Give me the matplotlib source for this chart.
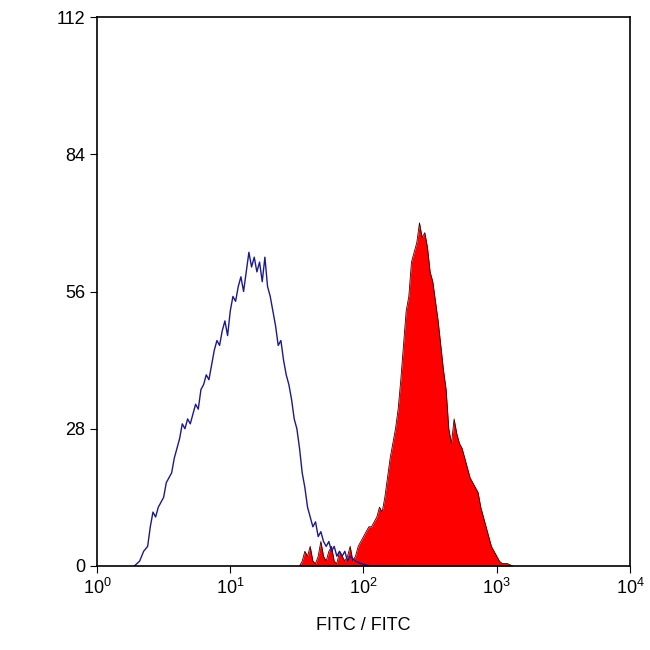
import numpy as np
import matplotlib
matplotlib.use("Agg")
import matplotlib.pyplot as plt

plt.rcParams['font.family'] = ['Liberation Sans', 'DejaVu Sans']
plt.rcParams['mathtext.fontset'] = 'custom'
plt.rcParams['mathtext.rm'] = 'Liberation Sans'

blue_logx = [0.28,0.32,0.35,0.38,0.40,0.42,0.44,0.46,0.48,0.50,0.52,0.54,0.56,0.58,0.60,0.62,0.64,0.66,0.68,0.70,0.72,0.74,0.76,0.78,0.80,0.82,0.84,0.86,0.88,0.90,0.92,0.94,0.96,0.98,1.00,1.02,1.04,1.06,1.08,1.10,1.12,1.14,1.16,1.18,1.20,1.22,1.24,1.26,1.28,1.30,1.32,1.34,1.36,1.38,1.40,1.42,1.44,1.46,1.48,1.50,1.52,1.54,1.56,1.58,1.60,1.62,1.64,1.66,1.68,1.70,1.72,1.74,1.76,1.78,1.80,1.82,1.84,1.86,1.88,1.90,1.94,1.98,2.05,2.3]
blue_counts = [0,1,3,4,8,11,10,12,13,14,17,18,19,22,24,26,29,28,30,29,31,33,32,36,37,39,38,41,44,46,45,48,50,47,52,55,54,57,59,56,60,64,61,63,60,62,58,63,57,55,52,49,45,46,42,39,37,34,30,28,24,19,16,12,10,8,9,6,7,5,4,5,3,4,2,3,2,3,1,2,1,0.5,0,0]

red_logx = [1.52,1.54,1.56,1.58,1.60,1.62,1.64,1.66,1.68,1.70,1.72,1.74,1.76,1.78,1.80,1.82,1.84,1.86,1.88,1.90,1.92,1.94,1.96,1.98,2.00,2.02,2.04,2.06,2.08,2.10,2.12,2.14,2.16,2.18,2.20,2.22,2.24,2.26,2.28,2.30,2.32,2.34,2.36,2.38,2.40,2.42,2.44,2.46,2.48,2.50,2.52,2.54,2.56,2.58,2.60,2.62,2.64,2.66,2.68,2.70,2.72,2.74,2.76,2.78,2.80,2.82,2.84,2.86,2.88,2.90,2.92,2.94,2.96,2.98,3.00,3.02,3.04,3.08,3.12]
red_counts = [0,1,3,2,4,1,0.5,2,5,2,1,3,4,1,0.5,3,2,1,2,4,1,2,4,5,6,7,8,8,9,10,12,11,14,18,22,25,28,32,38,45,52,55,62,64,66,70,67,68,65,60,58,54,50,45,40,36,28,25,30,27,25,24,22,20,18,17,16,15,12,10,8,6,4,3,2,1,0.5,0.5,0]

fig = plt.figure(figsize=(6.5, 6.5), dpi=100)
ax = fig.add_axes([97/650, 1-566/650, 533/650, 549/650])
bx = 10**np.array(blue_logx)
rx = 10**np.array(red_logx)
ax.fill_between(rx, red_counts, color='#ff0000', linewidth=0)
ax.plot(rx, red_counts, color='#330000', lw=0.6)
ax.plot(bx, blue_counts, color='#1a1a8c', lw=1.0)
ax.set_xscale('log')
ax.set_xlim(1, 1e4)
ax.set_ylim(0, 112)
ax.set_yticks([0, 28, 56, 84, 112])
ax.set_xticks([1, 10, 100, 1000, 10000])
ax.set_xticklabels([r'$10^0$', r'$10^1$', r'$10^2$', r'$10^3$', r'$10^4$'])
ax.minorticks_off()
ax.tick_params(labelsize=13, direction='out', length=5)
ax.set_xlabel('FITC / FITC', fontsize=13, labelpad=14)
for s in ax.spines.values():
    s.set_linewidth(1.2)
fig.savefig('out.png', dpi=100)
